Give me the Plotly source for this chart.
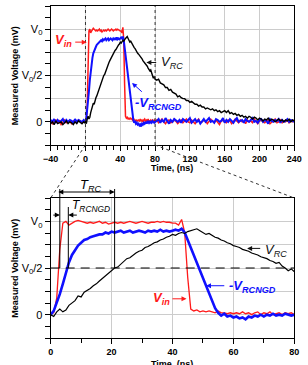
import plotly.graph_objects as go

# ---------------- data (time in ns, voltage normalised to V0) ----------------
time_ns = list(range(-40, -1, 2)) + list(range(-1, 81)) + list(range(82, 241, 2))

v_in = [
    # -40 .. -2 (step 2)
    0.01, -0.02, 0.0, 0.02, -0.01, 0.01, -0.03, 0.0, 0.02, -0.01,
    0.0, 0.01, -0.02, 0.01, 0.0, -0.01, 0.02, 0.0, -0.01, 0.01,
    # -1 .. 80 (step 1)
    0.0, 0.01, 0.02, 0.18, 0.7, 0.98, 1.0, 0.96, 0.98, 1.0,
    1.01, 1.0, 0.99, 0.98, 0.99, 0.98, 0.99, 1.0, 0.98, 0.99,
    0.97, 0.98, 0.99, 0.98, 0.99, 0.98, 0.99, 1.0, 0.99, 0.98,
    0.99, 1.0, 0.99, 0.98, 0.99, 0.99, 1.0, 0.99, 1.0, 0.99,
    0.99, 0.98, 0.98, 0.96, 1.02, 0.88, 0.4, 0.06, 0.04, 0.05,
    0.03, 0.04, 0.03, 0.04, 0.03, 0.02, 0.04, 0.02, 0.02, 0.01,
    0.02, 0.01, 0.02, 0.01, 0.03, 0.01, 0.02, 0.0, 0.02, 0.03,
    0.0, 0.02, 0.01, 0.03, 0.0, 0.01, 0.02, 0.0, 0.02, 0.01,
    0.02, 0.0,
    # 82 .. 240 (step 2)
    0.02, -0.01, 0.01, 0.03, 0.0, -0.02, 0.01, 0.02, -0.01, 0.0,
    0.03, 0.01, -0.02, 0.0, 0.02, -0.01, 0.01, 0.03, 0.0, -0.01,
    0.02, 0.0, -0.02, 0.01, 0.03, -0.01, 0.0, 0.02, 0.01, -0.02,
    0.0, 0.03, 0.01, -0.01, 0.02, 0.0, -0.03, 0.01, 0.02, 0.0,
    -0.01, 0.02, 0.01, -0.02, 0.0, 0.03, 0.01, -0.01, 0.02, 0.0,
    0.01, -0.02, 0.02, 0.0, 0.01, -0.01, 0.03, 0.0, -0.02, 0.01,
    0.02, 0.0, -0.01, 0.01, 0.02, -0.02, 0.0, 0.01, 0.03, -0.01,
    0.0, 0.02, -0.01, 0.01, 0.0, 0.02, -0.01, 0.01, 0.0, 0.02,
]

v_rcngd = [
    0.02, 0.0, 0.03, -0.01, 0.02, 0.0, 0.01, 0.03, -0.01, 0.02,
    0.0, 0.02, 0.01, -0.01, 0.03, 0.0, 0.02, 0.01, 0.0, 0.02,
    0.01, 0.0, 0.04, 0.12, 0.22, 0.33, 0.45, 0.56, 0.64, 0.69,
    0.74, 0.77, 0.8, 0.81, 0.83, 0.84, 0.85, 0.86, 0.86, 0.88,
    0.87, 0.89, 0.88, 0.89, 0.9, 0.88, 0.89, 0.9, 0.88, 0.89,
    0.9, 0.89, 0.88, 0.9, 0.89, 0.9, 0.89, 0.91, 0.89, 0.9,
    0.89, 0.9, 0.91, 0.9, 0.92, 0.88, 0.8, 0.73, 0.65, 0.57,
    0.48, 0.4, 0.33, 0.25, 0.15, 0.07, 0.02, -0.01, 0.01, -0.02,
    -0.01, -0.03, -0.02, -0.04, -0.03, -0.05, -0.02, -0.03, -0.01, -0.02,
    0.0, -0.02, 0.0, -0.01, 0.01, -0.01, 0.0, -0.01, 0.01, 0.0,
    -0.01, 0.0,
    0.01, 0.03, -0.01, 0.02, 0.0, 0.04, 0.01, -0.02, 0.02, 0.0,
    0.03, 0.01, 0.0, 0.02, -0.01, 0.03, 0.01, 0.0, 0.02, 0.04,
    -0.01, 0.01, 0.03, 0.0, 0.02, -0.02, 0.01, 0.03, 0.0, 0.02,
    0.04, 0.0, 0.01, -0.01, 0.03, 0.02, 0.0, 0.01, 0.04, -0.01,
    0.02, 0.0, 0.03, 0.01, -0.01, 0.02, 0.04, 0.0, 0.01, 0.02,
    -0.01, 0.03, 0.01, 0.0, 0.02, 0.04, 0.0, 0.01, -0.01, 0.02,
    0.03, 0.0, 0.02, 0.01, -0.02, 0.03, 0.01, 0.0, 0.02, 0.01,
    0.03, -0.01, 0.02, 0.0, 0.01, 0.03, 0.0, 0.02, 0.01, 0.0,
]

v_rc = [
    -0.02, 0.0, -0.03, 0.01, -0.02, -0.01, 0.0, -0.03, -0.01, 0.01,
    -0.02, 0.0, -0.01, -0.03, 0.0, -0.02, 0.01, -0.01, -0.02, 0.0,
    -0.01, 0.0, -0.02, 0.03, 0.06, 0.03, 0.05, 0.1, 0.13, 0.15,
    0.2, 0.19, 0.24, 0.26, 0.28, 0.31, 0.33, 0.36, 0.39, 0.42,
    0.45, 0.47, 0.5, 0.51, 0.54, 0.56, 0.6, 0.61, 0.64, 0.66,
    0.68, 0.69, 0.72, 0.73, 0.75, 0.77, 0.78, 0.8, 0.81, 0.83,
    0.84, 0.86, 0.85, 0.87, 0.88, 0.87, 0.89, 0.9, 0.91, 0.92,
    0.9, 0.88, 0.86, 0.87, 0.85, 0.83, 0.82, 0.8, 0.79, 0.77,
    0.76, 0.74, 0.73, 0.72, 0.7, 0.69, 0.68, 0.66, 0.65, 0.64,
    0.62, 0.61, 0.6, 0.58, 0.57, 0.55, 0.56, 0.52, 0.5, 0.47,
    0.49, 0.46,
    0.45, 0.46, 0.42, 0.41, 0.4, 0.37, 0.37, 0.34, 0.35, 0.32,
    0.31, 0.3, 0.27, 0.28, 0.26, 0.25, 0.25, 0.23, 0.23, 0.21,
    0.22, 0.2, 0.19, 0.19, 0.17, 0.18, 0.16, 0.16, 0.14, 0.15,
    0.14, 0.13, 0.14, 0.12, 0.13, 0.11, 0.12, 0.1, 0.11, 0.12,
    0.1, 0.12, 0.09, 0.1, 0.08, 0.09, 0.07, 0.08, 0.06, 0.07,
    0.05, 0.06, 0.04, 0.06, 0.05, 0.03, 0.05, 0.04, 0.02, 0.04,
    0.03, 0.01, 0.03, 0.02, 0.04, 0.01, 0.03, 0.02, 0.0, 0.02,
    0.03, 0.01, 0.02, 0.0, 0.02, 0.01, 0.03, 0.0, 0.02, 0.01,
]

y_tickvals = [-0.25, 0, 0.25, 0.5, 0.75, 1.0, 1.25]
y_ticktext = ["", "0", "", "V<sub>0</sub>/2", "", "V<sub>0</sub>", ""]

# ---------------- layout geometry ----------------
W, H = 308, 365
X_DOM = [45 / W, 302 / W]
TOP_Y = [1 - 145 / H, 1 - 6 / H]
BOT_Y = [1 - 338 / H, 1 - 198 / H]
TOP_XR = [-40, 240]
BOT_XR = [0, 80]
YR = [-0.25, 1.25]

RED = "#ff1a1a"
BLUE = "#1010ff"
BLACK = "#000000"
GRID = "#cccccc"
FONT = "Liberation Sans, Arial, sans-serif"


def top_paper(t, v):
    x = X_DOM[0] + (t - TOP_XR[0]) / (TOP_XR[1] - TOP_XR[0]) * (X_DOM[1] - X_DOM[0])
    y = TOP_Y[0] + (v - YR[0]) / (YR[1] - YR[0]) * (TOP_Y[1] - TOP_Y[0])
    return x, y


def bot_paper(t, v):
    x = X_DOM[0] + (t - BOT_XR[0]) / (BOT_XR[1] - BOT_XR[0]) * (X_DOM[1] - X_DOM[0])
    y = BOT_Y[0] + (v - YR[0]) / (YR[1] - YR[0]) * (BOT_Y[1] - BOT_Y[0])
    return x, y


fig = go.Figure()

series = [
    (v_in, RED, 1.5, 1.3),
    (v_rcngd, BLUE, 2.0, 2.6),
    (v_rc, BLACK, 1.4, 1.2),
]
for ys, col, wt, wb in series:
    fig.add_trace(go.Scatter(x=time_ns, y=ys, mode="lines", line=dict(color=col, width=wt),
                             xaxis="x", yaxis="y", showlegend=False, hoverinfo="skip"))
for ys, col, wt, wb in series:
    fig.add_trace(go.Scatter(x=time_ns, y=ys, mode="lines", line=dict(color=col, width=wb),
                             xaxis="x2", yaxis="y2", showlegend=False, hoverinfo="skip"))


def xaxis_cfg(rng, dtick, minor_dtick, anchor):
    return dict(
        domain=X_DOM, range=rng, anchor=anchor, tickmode="linear", tick0=rng[0], dtick=dtick,
        showgrid=True, gridcolor=GRID, gridwidth=1, zeroline=False,
        showline=True, linecolor="black", linewidth=1, mirror=True,
        ticks="outside", ticklen=5, tickcolor="black", tickwidth=1,
        tickfont=dict(family=FONT, size=9, color="black", weight="bold"),
        minor=dict(tick0=rng[0], dtick=minor_dtick, ticks="outside", ticklen=4,
                   tickcolor="black", showgrid=False),
    )


def yaxis_cfg(dom, anchor):
    return dict(
        domain=dom, range=YR, anchor=anchor, tickmode="array", tickvals=y_tickvals,
        ticktext=y_ticktext, showgrid=True, gridcolor=GRID, gridwidth=1, zeroline=False,
        showline=True, linecolor="black", linewidth=1, mirror=True,
        ticks="outside", ticklen=5, tickcolor="black",
        tickfont=dict(family=FONT, size=11, color="black"),
        minor=dict(tick0=-0.25, dtick=0.125, ticks="outside", ticklen=5,
                   tickcolor="black", showgrid=False),
    )


shapes = []
# dotted markers of zoomed window in top plot
for t in (0, 80):
    shapes.append(dict(type="line", xref="x", yref="y", x0=t, x1=t, y0=YR[0], y1=YR[1],
                       line=dict(color="#333333", width=1, dash="dot")))
# zoom connectors
for t_top, t_bot in ((0, BOT_XR[0]), (80, BOT_XR[1])):
    x0, y0 = top_paper(t_top, YR[0])
    x1, y1 = bot_paper(t_bot, YR[1])
    shapes.append(dict(type="line", xref="paper", yref="paper", x0=x0, y0=y0, x1=x1, y1=y1,
                       line=dict(color="#333333", width=1, dash="dot")))
# V0/2 dashed line in bottom plot
shapes.append(dict(type="line", xref="x2", yref="y2", x0=BOT_XR[0], x1=BOT_XR[1], y0=0.5, y1=0.5,
                   line=dict(color="black", width=1, dash="9px,6px")))
# T markers (vertical lines)
for t, top_py in ((3, 189), (21, 189), (5.8, 207)):
    _, yb = bot_paper(t, 0.5)
    shapes.append(dict(type="line", xref="x2", yref="paper", x0=t, x1=t, y0=yb, y1=1 - top_py / H,
                       line=dict(color="black", width=1)))

ann = []
# axis titles
for dom in (TOP_Y, BOT_Y):
    ann.append(dict(text="<b>Measured Voltage (mV)</b>", x=7 / W, y=(dom[0] + dom[1]) / 2,
                    xref="paper", yref="paper", xanchor="center", yanchor="middle",
                    textangle=-90, showarrow=False,
                    font=dict(family=FONT, size=9, color="black")))
ann.append(dict(text="<b>Time, (ns)</b>", x=(X_DOM[0] + X_DOM[1]) / 2, y=1 - 168 / H,
                xref="paper", yref="paper", xanchor="center", yanchor="middle", showarrow=False,
                font=dict(family=FONT, size=9, color="black")))
ann.append(dict(text="<b>Time, (ns)</b>", x=(X_DOM[0] + X_DOM[1]) / 2, y=1 - 357 / H,
                xref="paper", yref="paper", xanchor="center", yanchor="top", showarrow=False,
                font=dict(family=FONT, size=9, color="black")))

# T_RC double arrow (above bottom plot)
xa, _ = bot_paper(21, 0)
xb, _ = bot_paper(3, 0)
ann.append(dict(text="", x=xa, y=1 - 192 / H, xref="paper", yref="paper",
                ax=(xb - xa) * W, ay=0, showarrow=True, arrowhead=2, arrowside="end+start",
                arrowsize=1, arrowwidth=1, arrowcolor="black", standoff=0, startstandoff=0))
ann.append(dict(text="<i>T<sub>RC</sub></i>", x=88 / W, y=1 - 185 / H, xref="paper", yref="paper",
                xanchor="center", yanchor="middle",
                showarrow=False, font=dict(family=FONT, size=13, color="black")))
# T_RCNGD arrows
ann.append(dict(text="", x=3, y=1.067, xref="x2", yref="y2", ax=-8, ay=0, showarrow=True,
                arrowhead=2, arrowsize=1, arrowwidth=1, arrowcolor="black", standoff=0))
ann.append(dict(text="", x=5.8, y=1.067, xref="x2", yref="y2", ax=10, ay=0, showarrow=True,
                arrowhead=2, arrowsize=1, arrowwidth=1, arrowcolor="black", standoff=0))
ann.append(dict(text="<i>T<sub>RCNGD</sub></i>", x=6.5, y=1.16, xref="x2", yref="y2",
                xanchor="left", yanchor="middle", showarrow=False,
                font=dict(family=FONT, size=12, color="black")))

# curve labels: (text, xref, yref, text_t, text_v, xanchor, head_t, head_v, tail_t, tail_v, colour)
labels = [
    ("<b><i>V<sub>in</sub></i></b>", "x", "y", -25.5, 0.88, "center", 1.5, 0.86, -13.5, 0.86, RED),
    ("<i>V<sub>RC</sub></i>", "x", "y", 84, 0.64, "left", 70, 0.64, 83, 0.64, "#111111"),
    ("<b><i>-V<sub>RCNGD</sub></i></b>", "x", "y", 54.5, 0.2, "left", 53.5, 0.42, 66.5, 0.31, BLUE),
    ("<i>V<sub>RC</sub></i>", "x2", "y2", 69.8, 0.69, "left", 64.5, 0.71, 69.3, 0.71, "#111111"),
    ("<b><i>-V<sub>RCNGD</sub></i></b>", "x2", "y2", 58, 0.3, "left", 51, 0.31, 57.5, 0.31, BLUE),
    ("<b><i>V<sub>in</sub></i></b>", "x2", "y2", 33, 0.17, "left", 44.6, 0.17, 39.5, 0.17, RED),
]
for txt, xr, yr, tx, tv, xanc, hx, hv, tlx, tlv, col in labels:
    ann.append(dict(text=txt, x=tx, y=tv, xref=xr, yref=yr, xanchor=xanc, yanchor="middle",
                    showarrow=False, font=dict(family=FONT, size=13, color=col)))
    ann.append(dict(text="", x=hx, y=hv, xref=xr, yref=yr, axref=xr, ayref=yr, ax=tlx, ay=tlv,
                    showarrow=True, arrowhead=2, arrowsize=1, arrowwidth=1, arrowcolor=col,
                    standoff=0))

fig.update_layout(
    width=W, height=H, margin=dict(l=0, r=0, t=0, b=0),
    paper_bgcolor="white", plot_bgcolor="white",
    xaxis=xaxis_cfg(TOP_XR, 40, 8, "y"),
    yaxis=yaxis_cfg(TOP_Y, "x"),
    xaxis2=xaxis_cfg(BOT_XR, 20, 10, "y2"),
    yaxis2=yaxis_cfg(BOT_Y, "x2"),
    shapes=shapes, annotations=ann, showlegend=False,
    font=dict(family=FONT),
)

fig.write_html("out.html")
